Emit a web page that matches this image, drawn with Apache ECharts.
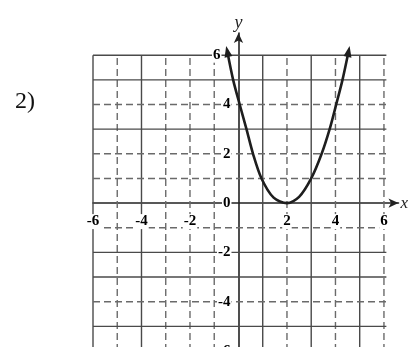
<!DOCTYPE html>
<html>
<head>
<meta charset="utf-8">
<script src="https://cdn.jsdelivr.net/npm/echarts@6/dist/echarts.min.js"></script>
<style>html,body{margin:0;padding:0;background:#fff;}#c{width:409px;height:347px;}</style>
</head>
<body>
<div id="c"></div>
<script>
// Parabola points (x, y)
const curveX = [-0.46, -0.22, 0.05, 0.33, 0.6, 0.95, 1.45, 2.0, 2.5, 3.0, 3.43, 3.76, 4.03, 4.29, 4.54];
const curveY = [6.15, 5, 4, 3, 2, 1, 0.22, 0, 0.25, 1, 2, 3, 4, 5, 6.15];
// Grid lines of the printed graph paper
const solidX = [-6, -4, 1, 3, 5];
const dashedX = [-5, -3, -2, -1, 2, 4, 6];
const solidY = [6, 5, 3, -2, -3, -5];
const dashedY = [4, 2, 1, -1, -4];
const xTickLabels = [-6, -4, -2, 2, 4, 6];
const yTickLabels = [6, 4, 2, 0, -2, -4, -6];
const gridMin = -6, gridMax = 6;

const serif = '"Liberation Serif", "DejaVu Serif", serif';
const chart = echarts.init(document.getElementById('c'), null, {renderer: 'canvas'});

const series = [];
function gridLine(pts, dashed) {
  series.push({
    type: 'line', data: pts, symbol: 'none', silent: true, animation: false, z: 1,
    lineStyle: {color: dashed ? '#6a6a6a' : '#4a4a4a', width: 1.4, type: dashed ? [7, 4] : 'solid'}
  });
}
solidX.forEach(x => gridLine([[x, gridMin], [x, gridMax]], false));
dashedX.forEach(x => gridLine([[x, gridMin], [x, gridMax]], true));
solidY.forEach(y => gridLine([[gridMin, y], [gridMax + 0.1, y]], false));
dashedY.forEach(y => gridLine([[gridMin, y], [gridMax + 0.1, y]], true));

const labelStyle = {
  fontFamily: serif, fontSize: 15, color: '#000', fontWeight: 'bold',
  backgroundColor: '#fff', padding: [0, 1]
};
// tick labels placed at the axes crossing (x-axis labels on y=0, y-axis labels on x=0)
series.push({
  type: 'scatter', symbolSize: 0, z: 6, silent: true, animation: false,
  itemStyle: {opacity: 1},
  data: xTickLabels.map(v => [v, 0]),
  label: Object.assign({show: true, position: 'bottom', distance: 11,
    formatter: p => String(p.value[0])}, labelStyle)
});
series.push({
  type: 'scatter', symbolSize: 0, z: 6, silent: true, animation: false,
  itemStyle: {opacity: 1},
  data: yTickLabels.map(v => v === 6
    ? {value: [0, v], label: {offset: [-10, 0]}}
    : {value: [0, v]}),
  label: Object.assign({show: true, position: 'left', distance: 7,
    formatter: p => String(p.value[1])}, labelStyle)
});

const curveData = curveX.map((x, i) => {
  const item = {value: [x, curveY[i]]};
  if (i === 0) { item.symbol = 'triangle'; item.symbolSize = [8, 11]; item.symbolRotate = 12; }
  else if (i === curveX.length - 1) { item.symbol = 'triangle'; item.symbolSize = [8, 11]; item.symbolRotate = -11; }
  return item;
});
series.push({
  type: 'line', data: curveData, smooth: 0.3, symbol: 'none', showSymbol: true, z: 8,
  animation: false,
  itemStyle: {color: '#1e1e1e'},
  lineStyle: {color: '#1e1e1e', width: 2.6}
});

chart.setOption({
  backgroundColor: '#fff',
  animation: false,
  grid: {left: 93, right: 10.5, top: 33, bottom: -4, containLabel: false, outerBoundsMode: 'none'},
  xAxis: {
    type: 'value', min: -6, max: 6.6, interval: 2,
    axisLine: {onZero: true, lineStyle: {color: '#222', width: 1.6}, symbol: ['none', 'arrow'], symbolSize: [7, 10]},
    axisTick: {show: false},
    splitLine: {show: false},
    axisLabel: {show: false},
    name: 'x', nameLocation: 'end', nameGap: 2,
    nameTextStyle: {fontFamily: serif, fontStyle: 'italic', fontSize: 17, color: '#222'}
  },
  yAxis: {
    type: 'value', min: -6, max: 6.9, interval: 2,
    axisLine: {onZero: true, lineStyle: {color: '#222', width: 1.6}, symbol: ['none', 'arrow'], symbolSize: [7, 10]},
    axisTick: {show: false},
    splitLine: {show: false},
    axisLabel: {show: false},
    name: 'y', nameLocation: 'end', nameGap: 1,
    nameTextStyle: {fontFamily: serif, fontStyle: 'italic', fontSize: 18, color: '#222'}
  },
  graphic: [{
    type: 'text', left: 15, top: 90,
    style: {text: '2)', font: '24px "Liberation Serif", serif', fill: '#111'}
  }],
  series: series
});
</script>
</body>
</html>
